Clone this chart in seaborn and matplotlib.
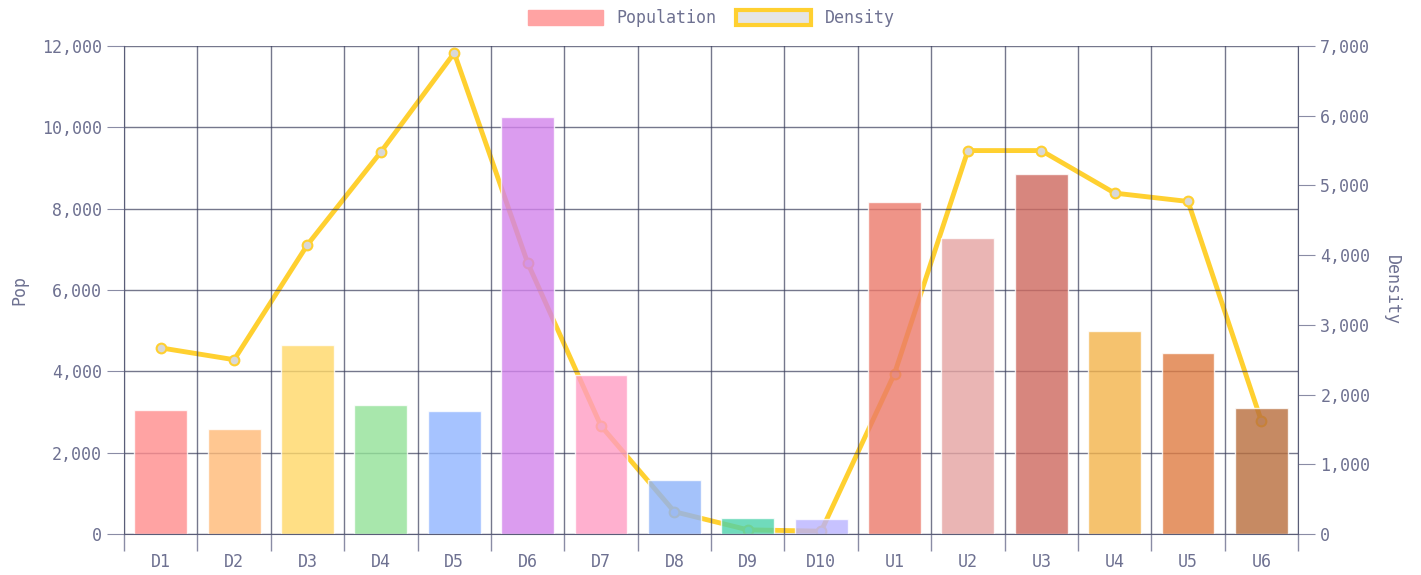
import pandas as pd
import seaborn as sns
from matplotlib import pyplot as plt
from matplotlib.patches import Patch
from matplotlib.colors import to_rgb
from matplotlib.ticker import FuncFormatter, FixedLocator

# data
districts = ["D1", "D2", "D3", "D4", "D5", "D6", "D7", "D8", "D9", "D10",
             "U1", "U2", "U3", "U4", "U5", "U6"]
population = [3050, 2580, 4650, 3180, 3020, 10250, 3910, 1340, 400, 370,
              8170, 7280, 8860, 5000, 4450, 3090]
density = [2670, 2500, 4150, 5480, 6900, 3890, 1550, 320, 60, 40,
           2300, 5500, 5500, 4890, 4770, 1620]
# colours as they look on white
bar_colors = ["#ffa3a3", "#ffc891", "#ffe085", "#a8e8ac", "#a6c4ff", "#dc9cf0",
              "#ffb0d0", "#a4c2fa", "#70dcbc", "#c7c2ff", "#f09488", "#eab5b4",
              "#d8867e", "#f5c26e", "#e59668", "#c68a63"]

TEXT = "#6e7191"
GRID = "#3a3d5c"
LINE = "#ffd030"
TICK = "#8a8ca5"
BAR_ALPHA = 0.8


def base_color(c, a=BAR_ALPHA):
    # colour that gives c when drawn with alpha a over white
    return tuple(min(1, max(0, (v - (1 - a)) / a)) for v in to_rgb(c))


df = pd.DataFrame({"district": districts, "pop": population, "density": density})

sns.set_style("white")
plt.rcParams['font.family'] = ['DejaVu Sans Mono', 'DejaVu Sans']

fig = plt.figure(figsize=(14.21, 5.75), dpi=100)
ax = fig.add_axes([0.0873, 0.0713, 0.8262, 0.8487])
ax2 = ax.twinx()

# density line on the twin axis, drawn under the bars
sns.lineplot(data=df, x="district", y="density", ax=ax2, color=LINE, lw=3.5,
             marker="o", markersize=7, markerfacecolor="#d8d8d8",
             markeredgecolor=LINE, markeredgewidth=1.5, sort=False)

sns.barplot(data=df, x="district", y="pop", hue="district",
            palette=[base_color(c) for c in bar_colors],
            ax=ax, width=0.72, alpha=BAR_ALPHA, legend=False, saturation=1)

ax.set_zorder(ax2.get_zorder() + 1)
ax.patch.set_visible(False)

n = len(districts)
ax.set_xlim(-0.5, n - 0.5)
ax.set_ylim(0, 12000)
ax2.set_ylim(0, 7000)
ax.set_yticks(range(0, 12001, 2000))
ax2.set_yticks(range(0, 7001, 1000))

fmt = FuncFormatter(lambda v, p: f"{int(v):,}")
ax.yaxis.set_major_formatter(fmt)
ax2.yaxis.set_major_formatter(fmt)

# vertical grid at category boundaries
ax.xaxis.set_minor_locator(FixedLocator([i - 0.5 for i in range(n + 1)]))
ax.grid(True, which="minor", axis="x", color=GRID, alpha=0.7, lw=1)
ax.grid(True, which="major", axis="y", color=GRID, alpha=0.7, lw=1)
ax.set_axisbelow(True)

ax.tick_params(axis="x", which="major", bottom=True, length=0, pad=14,
               labelsize=12, labelcolor=TEXT)
ax.tick_params(axis="x", which="minor", bottom=True, length=12, color=TICK, width=1)
ax.tick_params(axis="y", left=True, length=12, color=TICK, labelsize=12,
               labelcolor=TEXT, pad=4)
ax2.tick_params(axis="y", right=True, length=12, color=TICK, labelsize=12,
                labelcolor=TEXT, pad=4)

for a in (ax, ax2):
    for side in a.spines:
        a.spines[side].set_visible(False)
ax.spines["left"].set_visible(True)
ax.spines["left"].set_color("#5a5d78")
ax.spines["bottom"].set_visible(True)
ax.spines["bottom"].set_color("#5a5d78")
ax2.spines["right"].set_visible(True)
ax2.spines["right"].set_color("#5a5d78")

ax.set_xlabel("")
ax.set_ylabel("Pop", color=TEXT, fontsize=12, labelpad=10)
ax2.set_ylabel("Density", color=TEXT, fontsize=12, rotation=270, labelpad=22)

handles = [Patch(facecolor=bar_colors[0], edgecolor=bar_colors[0]),
           Patch(facecolor="#e5e5e5", edgecolor=LINE, linewidth=3)]
leg = ax.legend(handles, ["Population", "Density"], loc="lower center",
                bbox_to_anchor=(0.5, 1.025), ncol=2, frameon=False, fontsize=12,
                handlelength=4.5, handleheight=1.0, columnspacing=1.2, borderaxespad=0.0)
for t in leg.get_texts():
    t.set_color(TEXT)

plt.savefig("out.png", dpi=100)
